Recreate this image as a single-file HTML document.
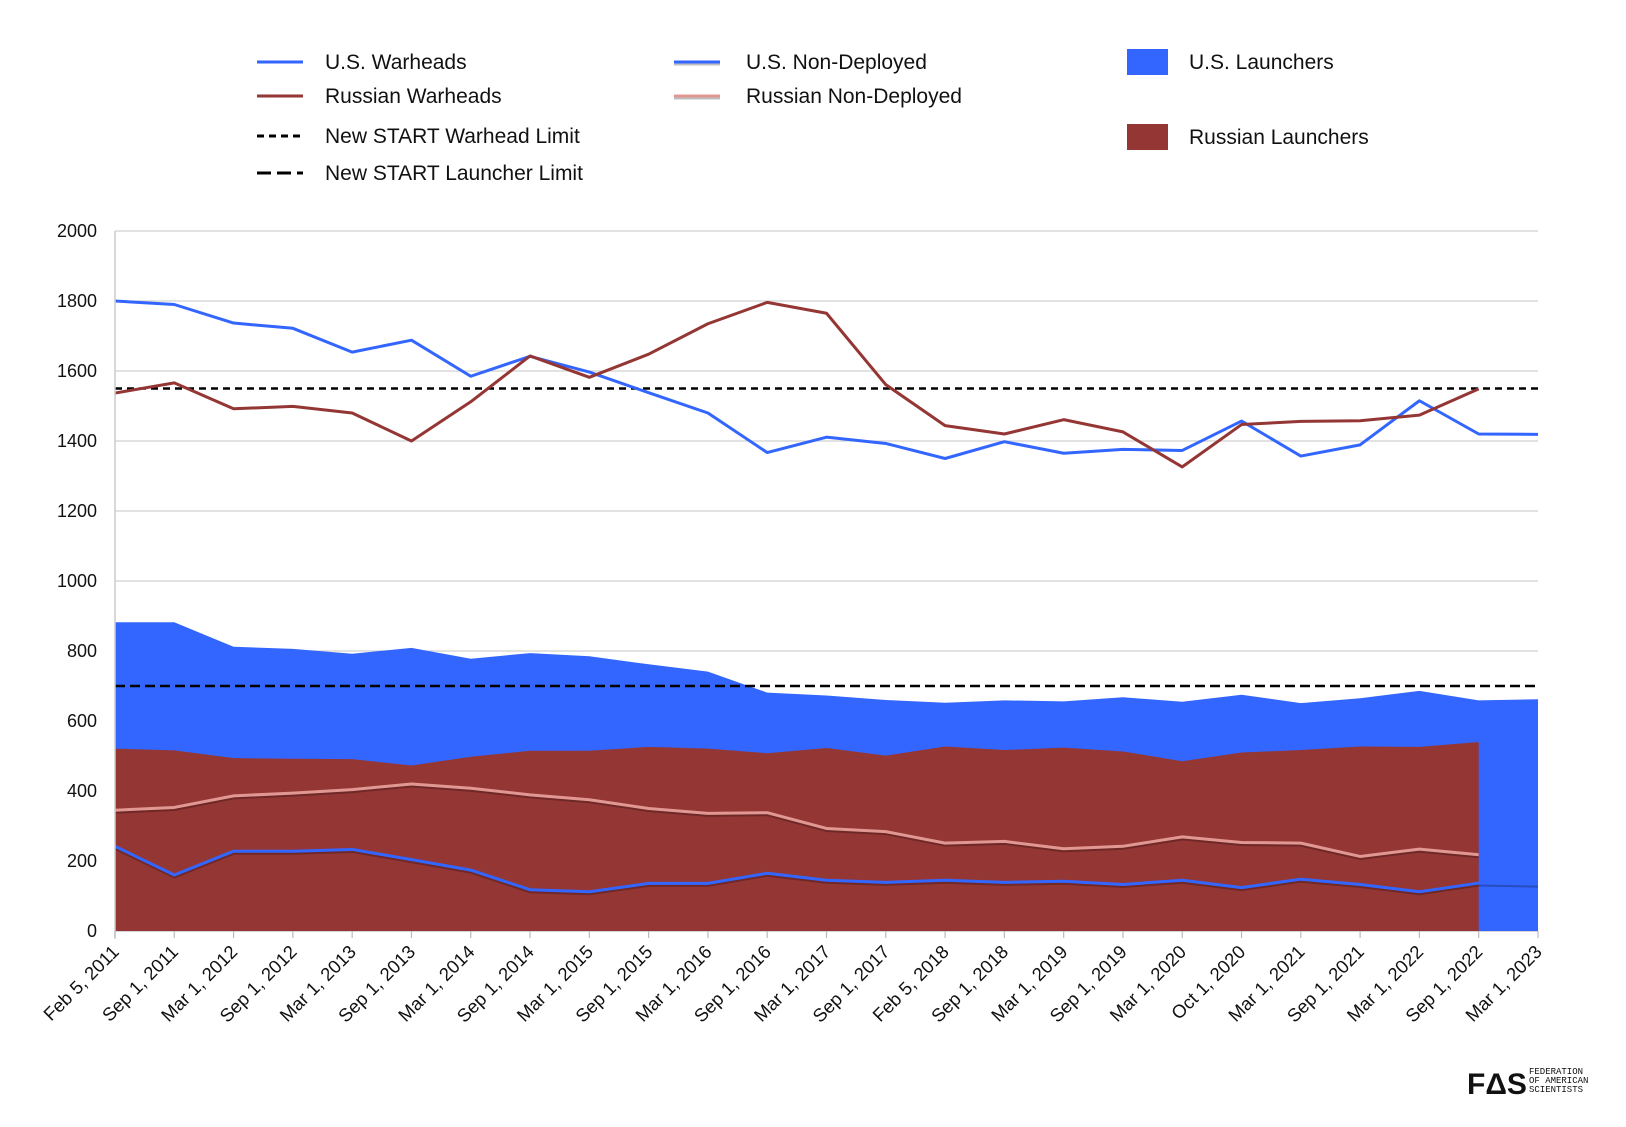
<!DOCTYPE html>
<html><head><meta charset="utf-8"><style>
body{margin:0;background:#fff;}
svg{display:block;font-family:"Liberation Sans",sans-serif;}
</style></head><body>
<svg id="chart" width="1626" height="1127" viewBox="0 0 1626 1127">
<g id="legend" font-size="21" fill="#111">
 <g><line x1="257" y1="62" x2="303" y2="62" stroke="#3366ff" stroke-width="3"/><text x="325" y="69">U.S. Warheads</text></g>
 <g><line x1="257" y1="96" x2="303" y2="96" stroke="#943634" stroke-width="3"/><text x="325" y="103">Russian Warheads</text></g>
 <g><line x1="257" y1="136" x2="303" y2="136" stroke="#000" stroke-width="3" stroke-dasharray="7,5"/><text x="325" y="143">New START Warhead Limit</text></g>
 <g><line x1="257" y1="173" x2="303" y2="173" stroke="#000" stroke-width="3" stroke-dasharray="14,6"/><text x="325" y="180">New START Launcher Limit</text></g>
 <g><line x1="674" y1="64" x2="720" y2="64" stroke="rgba(0,0,0,0.25)" stroke-width="3"/><line x1="674" y1="62" x2="720" y2="62" stroke="#3366ff" stroke-width="3"/><text x="746" y="69">U.S. Non-Deployed</text></g>
 <g><line x1="674" y1="98" x2="720" y2="98" stroke="rgba(0,0,0,0.25)" stroke-width="3"/><line x1="674" y1="96" x2="720" y2="96" stroke="#e29892" stroke-width="3"/><text x="746" y="103">Russian Non-Deployed</text></g>
 <g><rect x="1127" y="49" width="41" height="26" fill="#3366ff"/><text x="1189" y="69">U.S. Launchers</text></g>
 <g><rect x="1127" y="124" width="41" height="26" fill="#943634"/><text x="1189" y="144">Russian Launchers</text></g>
</g>
<g id="grid"></g>
<g id="areas"></g>
<g id="lines"></g>
<g id="axes"></g>
<g>
 <text x="1467" y="1094" font-size="30" font-weight="bold" fill="#111">FΔS</text>
 <text x="1529" y="1074" font-size="9" font-family="Liberation Mono,monospace" fill="#111">FEDERATION</text>
 <text x="1529" y="1083" font-size="9" font-family="Liberation Mono,monospace" fill="#111">OF AMERICAN</text>
 <text x="1529" y="1092" font-size="9" font-family="Liberation Mono,monospace" fill="#111">SCIENTISTS</text>
</g>
</svg>
<script>
const categories=["Feb 5, 2011","Sep 1, 2011","Mar 1, 2012","Sep 1, 2012","Mar 1, 2013","Sep 1, 2013","Mar 1, 2014","Sep 1, 2014","Mar 1, 2015","Sep 1, 2015","Mar 1, 2016","Sep 1, 2016","Mar 1, 2017","Sep 1, 2017","Feb 5, 2018","Sep 1, 2018","Mar 1, 2019","Sep 1, 2019","Mar 1, 2020","Oct 1, 2020","Mar 1, 2021","Sep 1, 2021","Mar 1, 2022","Sep 1, 2022","Mar 1, 2023"];
const usWarheads=[1800,1790,1737,1722,1654,1688,1585,1642,1597,1538,1480,1367,1411,1393,1350,1398,1365,1376,1373,1457,1357,1389,1515,1420,1419];
const ruWarheads=[1537,1566,1492,1499,1480,1400,1512,1643,1582,1648,1735,1796,1765,1561,1444,1420,1461,1426,1326,1447,1456,1458,1474,1549];
const usLaunchers=[882,882,812,806,792,809,778,794,785,762,741,681,673,660,652,659,656,668,655,675,651,665,686,659,662];
const ruLaunchers=[521,516,494,492,491,473,498,515,515,526,521,508,523,501,527,517,524,513,485,510,517,527,526,540];
const ruNonDeployed=[345,353,386,394,404,420,408,389,375,350,336,338,293,284,251,256,235,242,269,253,251,213,234,218];
const usNonDeployed=[242,160,228,228,233,204,174,118,112,136,136,165,145,139,145,139,142,133,145,124,148,133,112,137,134];
const warheadLimit=1550, launcherLimit=700;
const yTicks=[0,200,400,600,800,1000,1200,1400,1600,1800,2000];

const L=115,R=1538,Y0=931,PX=0.35;
const x=i=>L+i*(R-L)/(categories.length-1);
const y=v=>Y0-v*PX;
const NS="http://www.w3.org/2000/svg";
function mk(tag,attrs,parent){const e=document.createElementNS(NS,tag);for(const k in attrs)e.setAttribute(k,attrs[k]);parent.appendChild(e);return e;}
const grid=document.getElementById('grid'),areas=document.getElementById('areas'),lines=document.getElementById('lines'),axes=document.getElementById('axes');

yTicks.forEach(t=>{
 const g=mk('line',{x1:L,x2:R,y1:y(t),y2:y(t),stroke:t===0?'#bbb':'#d0d0d0','stroke-width':1.2},grid);
 
 
 const tx=mk('text',{x:97,y:y(t)+6,'text-anchor':'end','font-size':18,fill:'#111'},axes);
 tx.textContent=t;
 
 
});
mk('line',{x1:L,x2:L,y1:y(2000),y2:Y0+8,stroke:'#ccc','stroke-width':1.5},axes);

function areaPath(vals){let d='M'+x(0)+','+Y0;vals.forEach((v,i)=>d+=' L'+x(i)+','+y(v));d+=' L'+x(vals.length-1)+','+Y0+' Z';return d;}
const ua=mk('path',{d:areaPath(usLaunchers),fill:'#3366ff'},areas);


const ra=mk('path',{d:areaPath(ruLaunchers),fill:'#943634'},areas);



function linePath(vals){return vals.map((v,i)=>(i?'L':'M')+x(i)+','+y(v)).join(' ');}
function drawLine(vals,color,name,shadow){
 if(shadow) mk('path',{d:linePath(vals),fill:'none',stroke:'rgba(0,0,0,0.25)','stroke-width':3,transform:'translate(0,2)'},lines);
 const p=mk('path',{d:linePath(vals),fill:'none',stroke:color,'stroke-width':3,'stroke-linejoin':'round'},lines);
 
 
}
drawLine(ruNonDeployed,'#e29892','russian-non-deployed-line',true);
drawLine(usNonDeployed,'#3366ff','us-non-deployed-line',true);
const wl=mk('line',{x1:L,x2:R,y1:y(warheadLimit),y2:y(warheadLimit),stroke:'#000','stroke-width':2.5,'stroke-dasharray':'7,5'},lines);


const ll=mk('line',{x1:L,x2:R,y1:y(launcherLimit),y2:y(launcherLimit),stroke:'#000','stroke-width':2.5,'stroke-dasharray':'10,5'},lines);


drawLine(usWarheads,'#3366ff','us-warheads-line',false);
drawLine(ruWarheads,'#943634','russian-warheads-line',false);

categories.forEach((c,i)=>{
 mk('line',{x1:x(i),x2:x(i),y1:Y0,y2:Y0+7,stroke:'#bbb','stroke-width':1.2},axes);
 const ax=x(i)+5, ay=Y0+22;
 const t=mk('text',{x:ax,y:ay,'text-anchor':'end','font-size':18.5,fill:'#111',transform:'rotate(-45 '+ax+' '+ay+')'},axes);
 t.textContent=c;
 
 
});
</script>
</body></html>
